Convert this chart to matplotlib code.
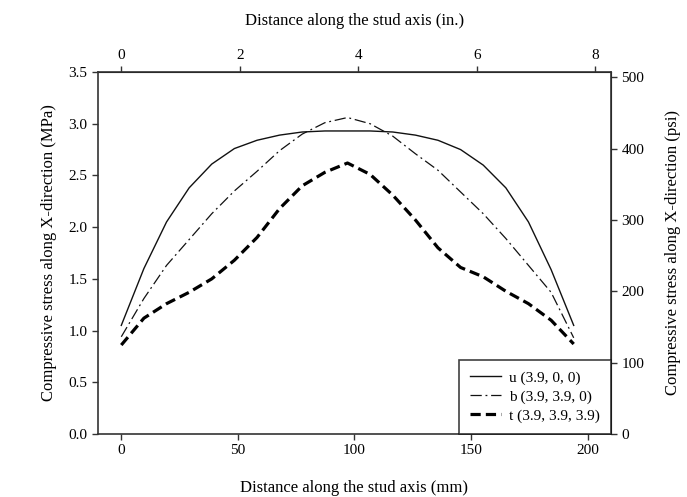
import matplotlib
matplotlib.use('Agg')
import matplotlib.pyplot as plt

plt.rcParams['font.family'] = ['Liberation Serif', 'DejaVu Serif']

# positions along stud (mm)
dist_mm = [0, 9.7, 19.4, 29.1, 38.8, 48.5, 58.2, 67.9, 77.6, 87.3, 97,
           106.7, 116.4, 126.1, 135.8, 145.5, 155.2, 164.9, 174.6, 184.3, 194]

stress_u = [1.05, 1.60, 2.05, 2.38, 2.61, 2.76, 2.84, 2.89, 2.92, 2.93, 2.93,
            2.93, 2.92, 2.89, 2.84, 2.75, 2.60, 2.38, 2.05, 1.59, 1.05]
stress_b = [0.94, 1.31, 1.63, 1.88, 2.13, 2.35, 2.54, 2.74, 2.90, 3.01, 3.06,
            3.00, 2.88, 2.71, 2.55, 2.34, 2.13, 1.89, 1.63, 1.37, 0.93]
stress_t = [0.86, 1.12, 1.26, 1.37, 1.50, 1.68, 1.90, 2.18, 2.40, 2.53, 2.62,
            2.51, 2.31, 2.07, 1.80, 1.61, 1.52, 1.38, 1.26, 1.10, 0.87]

labels = ['u (3.9, 0, 0)', 'b (3.9, 3.9, 0)', 't (3.9, 3.9, 3.9)']

MPA_TO_PSI = 145.038
MM_PER_IN = 25.4

fig = plt.figure(figsize=(6.87, 4.97), dpi=100)
ax = fig.add_axes([0.1426, 0.1268, 0.7468, 0.7283])

ax.plot(dist_mm, stress_u, color='#111111', linewidth=1.0, linestyle='-', label=labels[0])
ax.plot(dist_mm, stress_b, color='#111111', linewidth=0.9, linestyle=(0, (9, 3, 1.5, 3)), label=labels[1])
ax.plot(dist_mm, stress_t, color='#000000', linewidth=2.3, linestyle=(0, (3.2, 1.6)), label=labels[2])

ax.set_xlim(-10, 210)
ax.set_ylim(0, 3.5)
ax.set_xticks([0, 50, 100, 150, 200])
ax.set_yticks([0.0, 0.5, 1.0, 1.5, 2.0, 2.5, 3.0, 3.5])
ax.set_yticklabels(['0.0', '0.5', '1.0', '1.5', '2.0', '2.5', '3.0', '3.5'])
ax.set_xlabel('Distance along the stud axis (mm)', fontsize=12, labelpad=16)
ax.set_ylabel('Compressive stress along X-direction (MPa)', fontsize=12, labelpad=8)
ax.tick_params(direction='out', length=4, width=1, labelsize=11, color='#333333')

for sp in ax.spines.values():
    sp.set_color('#333333')
    sp.set_linewidth(1.2)

top = ax.secondary_xaxis('top', functions=(lambda x: x / MM_PER_IN, lambda x: x * MM_PER_IN))
top.set_xticks([0, 2, 4, 6, 8])
top.set_xlabel('Distance along the stud axis (in.)', fontsize=12, labelpad=17)
top.tick_params(direction='out', length=4, width=1, labelsize=11, color='#333333')

right = ax.secondary_yaxis('right', functions=(lambda y: y * MPA_TO_PSI, lambda y: y / MPA_TO_PSI))
right.set_yticks([0, 100, 200, 300, 400, 500])
right.set_ylabel('Compressive stress along X-direction (psi)', fontsize=12, labelpad=15)
right.tick_params(direction='out', length=4, width=1, labelsize=11, color='#333333')

leg = ax.legend(loc='lower right', fontsize=11, frameon=True, fancybox=False,
                edgecolor='#111111', borderaxespad=0, handlelength=2.0,
                borderpad=0.75, labelspacing=0.32, handletextpad=0.5)
leg.get_frame().set_linewidth(1.2)

fig.savefig('out.png', dpi=100)
